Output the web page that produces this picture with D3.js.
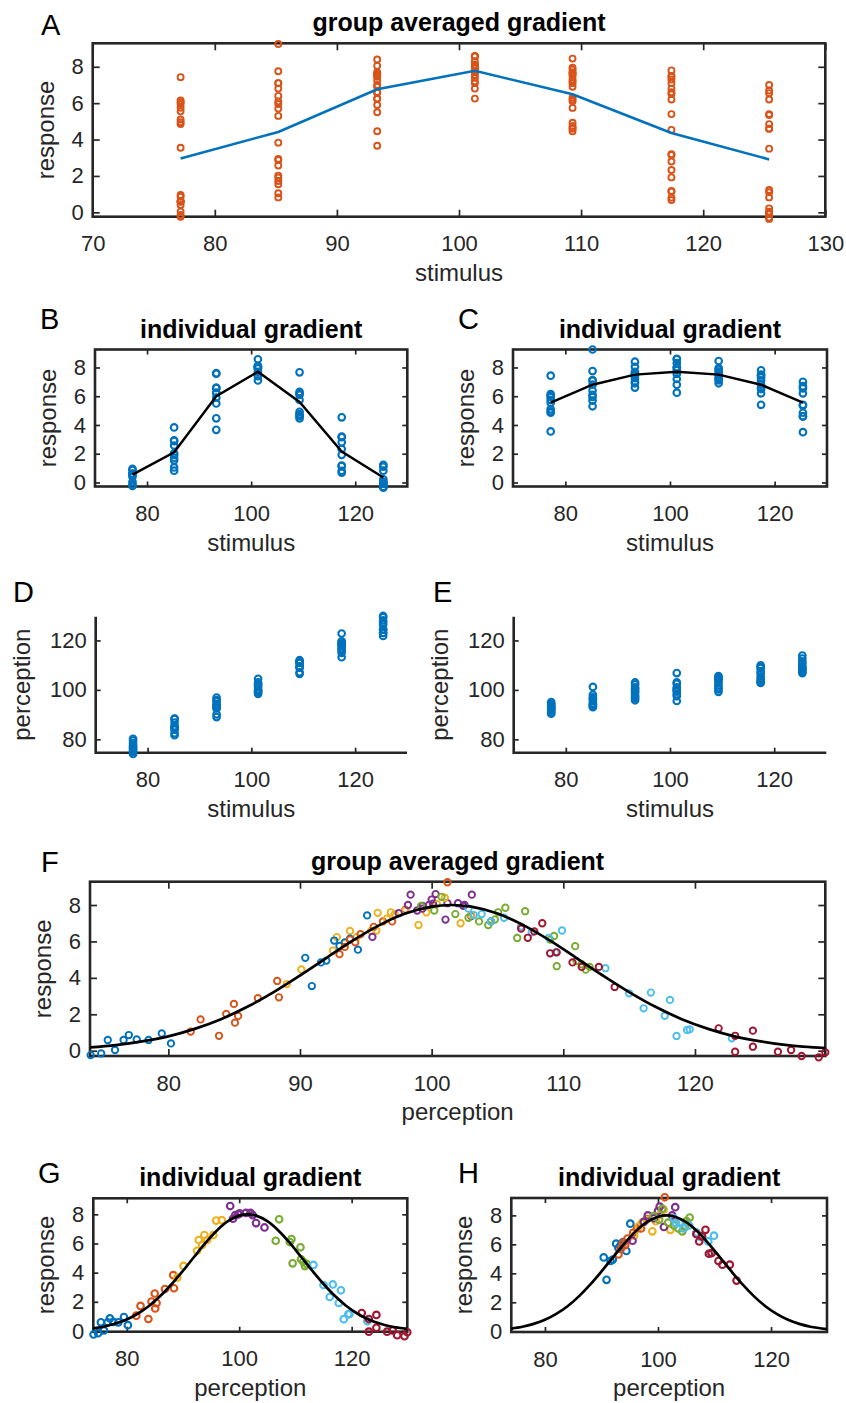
<!DOCTYPE html>
<html>
<head>
<meta charset="utf-8">
<script src="https://cdn.jsdelivr.net/npm/d3@7"></script>
<style>
  body { margin: 0; background: #fff; }
  svg text { font-family: "Liberation Sans", Arial, Helvetica, sans-serif; fill: #262626; }
  .tl { font-size: 22px; }
  .lab { font-size: 24px; }
  .ttl { font-size: 25px; font-weight: bold; fill: #000; }
  .let { font-size: 29px; fill: #000; }
</style>
</head>
<body>
<svg id="fig" width="846" height="1403"></svg>
<script>
// stimulus values (x of the columns in A-E)
var stimuli = [77.2, 85.2, 93.3, 101.3, 109.3, 117.4, 125.4];
// MATLAB default colour order, one per stimulus
var stimColors = ['#0072BD', '#D95319', '#EDB120', '#7E2F8E', '#77AC30', '#4DBEEE', '#A2142F'];

// subject 1 (B, D, G): [stimulus index, perception, response]
var subj1 = [
  [0, 74.1, -0.24], [0, 74.9, -0.15], [0, 75.4, 0.59], [0, 75.95, 0.04], [0, 76.6, 0.59],
  [0, 77.0, 0.86], [0, 77.6, 0.62], [0, 78.5, 0.59], [0, 79.5, 0.95], [0, 80.2, 0.4],
  [1, 81.7, 1.05], [1, 82.45, 1.72], [1, 83.85, 0.82], [1, 84.4, 2.02], [1, 84.98, 2.57],
  [1, 85.06, 1.54], [1, 85.3, 1.91], [1, 86.8, 2.88], [1, 88.27, 3.83], [1, 88.4, 2.93],
  [2, 89.0, 3.66], [2, 90.1, 4.46], [2, 92.5, 5.5], [2, 92.8, 6.24], [2, 93.4, 5.9],
  [2, 93.8, 6.58], [2, 94.3, 6.24], [2, 95.4, 6.58], [2, 95.9, 7.57], [2, 96.9, 7.6],
  [3, 98.4, 8.57], [3, 98.9, 7.7], [3, 99.3, 7.95], [3, 99.8, 8.0], [3, 100.1, 8.07],
  [3, 101.2, 8.1], [3, 102.0, 8.1], [3, 102.4, 7.95], [3, 103.0, 7.4], [3, 104.5, 7.1],
  [4, 106.5, 6.19], [4, 107.1, 7.66], [4, 109.0, 6.1], [4, 109.3, 6.3], [4, 109.5, 4.64],
  [4, 110.9, 5.74], [4, 111.0, 4.92], [4, 111.4, 4.75], [4, 111.7, 4.45], [4, 112.0, 4.6],
  [5, 113.2, 4.53], [5, 115.0, 3.15], [5, 116.1, 2.33], [5, 116.65, 3.19], [5, 117.7, 1.92],
  [5, 118.1, 2.79], [5, 118.6, 0.81], [5, 119.4, 1.14], [5, 119.6, 1.17], [5, 122.8, 0.68],
  [6, 121.8, 1.23], [6, 123.05, 0.82], [6, 123.05, -0.05], [6, 124.4, 1.1], [6, 124.4, 0.22],
  [6, 126.3, -0.05], [6, 127.3, 0.04], [6, 128.1, -0.29], [6, 129.4, -0.36], [6, 129.9, -0.09]
];

// subject 2 (C, E, H): [stimulus index, perception, response]
var subj2 = [
  [0, 90.4, 5.1], [0, 90.9, 3.55], [0, 91.6, 4.85], [0, 92.0, 4.95], [0, 92.6, 6.05],
  [0, 93.0, 5.75], [0, 93.4, 5.95], [0, 93.8, 6.15], [0, 94.4, 5.55], [0, 95.1, 7.43],
  [1, 93.0, 5.3], [1, 93.4, 5.7], [1, 93.8, 6.1], [1, 94.2, 5.95], [1, 94.6, 6.4],
  [1, 95.6, 6.8], [1, 96.3, 7.1], [1, 97.0, 7.1], [1, 98.0, 7.75], [1, 101.2, 9.25],
  [2, 95.8, 6.6], [2, 96.6, 7.25], [2, 97.2, 7.5], [2, 98.0, 7.7], [2, 99.0, 6.9],
  [2, 99.6, 7.6], [2, 100.4, 8.05], [2, 101.0, 8.4], [2, 102.2, 7.0], [2, 103.0, 7.45],
  [3, 95.5, 6.25], [3, 97.5, 7.55], [3, 98.2, 8.0], [3, 99.3, 7.8], [3, 100.0, 8.3],
  [3, 100.3, 8.6], [3, 101.05, 7.2], [3, 102.5, 8.0], [3, 103.05, 8.57], [3, 106.8, 6.8],
  [4, 99.2, 7.95], [4, 100.2, 7.7], [4, 100.75, 8.45], [4, 101.8, 7.5], [4, 102.8, 7.3],
  [4, 103.6, 7.1], [4, 104.3, 6.9], [4, 104.8, 7.2], [4, 105.05, 7.6], [4, 105.6, 7.85],
  [5, 102.8, 7.8], [5, 103.2, 7.45], [5, 103.8, 7.5], [5, 104.5, 7.1], [5, 105.5, 7.3],
  [5, 106.8, 6.8], [5, 107.6, 6.5], [5, 108.9, 6.2], [5, 109.4, 5.4], [5, 109.9, 6.6],
  [6, 106.8, 6.7], [6, 107.3, 6.2], [6, 107.8, 6.55], [6, 108.4, 7.0], [6, 109.0, 5.35],
  [6, 109.5, 5.4], [6, 110.7, 4.85], [6, 111.4, 4.6], [6, 112.7, 4.6], [6, 113.9, 3.5]
];

// mean response per stimulus
var groupMean = [2.96, 4.42, 6.76, 7.78, 6.49, 4.36, 2.91];
var subj1Mean = [0.55, 2.1, 6.0, 7.7, 5.6, 2.15, 0.35];
var subj2Mean = [5.55, 6.8, 7.5, 7.7, 7.5, 6.8, 5.55];

var fitX = [74, 76, 78, 80, 82, 84, 86, 88, 90, 92, 94, 96, 98, 100, 101.5,
            103, 105, 107, 109, 111, 113, 115, 117, 119, 121, 123, 125, 127, 130];
var fitY = [0.18, 0.31, 0.51, 0.79, 1.20, 1.73, 2.41, 3.22, 4.13, 5.09, 6.04, 6.88, 7.53, 7.91, 8.0,
            7.91, 7.53, 6.88, 6.04, 5.09, 4.13, 3.22, 2.41, 1.73, 1.20, 0.79, 0.51, 0.31, 0.14];

// tick values
var stimTicksWide = [70, 80, 90, 100, 110, 120, 130];
var stimTicks = [80, 100, 120];
var percTicksWide = [80, 90, 100, 110, 120];
var respTicks = [0, 2, 4, 6, 8];
var percTicks = [80, 100, 120];

var svg = d3.select('#fig');
var ink = '#262626';
var fitPts = fitX.map(function(v, i){ return [v, fitY[i]]; });
var meanPts = function(m){ return m.map(function(v, i){ return [stimuli[i], v]; }); };

function panel(o){
  var g = svg.append('g');
  var x = d3.scaleLinear().domain(o.xDomain).range([o.left, o.right]);
  var y = d3.scaleLinear().domain(o.yDomain).range([o.bottom, o.top]);
  var tk = o.tick || 5;

  g.append('clipPath').attr('id', 'clip' + o.letter).append('rect')
    .attr('x', o.left).attr('y', o.top)
    .attr('width', o.right - o.left).attr('height', o.bottom - o.top);

  // axes, ticks pointing inward
  g.append('g').attr('transform', 'translate(0,' + o.bottom + ')')
    .call(d3.axisBottom(x).tickValues(o.xTicks).tickSize(-tk).tickSizeOuter(0).tickPadding(19));
  g.append('g').attr('transform', 'translate(' + o.left + ',0)')
    .call(d3.axisLeft(y).tickValues(o.yTicks).tickSize(-tk).tickSizeOuter(0).tickPadding(9));
  if (o.box) {
    g.append('g').attr('transform', 'translate(0,' + o.top + ')')
      .call(d3.axisTop(x).tickValues(o.xTicks).tickSize(-tk).tickSizeOuter(0).tickFormat(''));
    g.append('g').attr('transform', 'translate(' + o.right + ',0)')
      .call(d3.axisRight(y).tickValues(o.yTicks).tickSize(-tk).tickSizeOuter(0).tickFormat(''));
  }
  g.selectAll('.domain').remove();
  g.selectAll('.tick line').attr('stroke', ink).attr('stroke-width', 1.7);
  g.selectAll('.tick text').attr('class', 'tl').attr('fill', null);
  g.selectAll('g').attr('font-size', null).attr('font-family', null);

  // frame
  if (o.box) {
    g.append('rect')
      .attr('x', o.left).attr('y', o.top)
      .attr('width', o.right - o.left).attr('height', o.bottom - o.top)
      .attr('fill', 'none').attr('stroke', ink).attr('stroke-width', 2.6);
  } else {
    g.append('path')
      .attr('d', 'M' + o.left + ',' + o.top + 'V' + o.bottom + 'H' + o.right)
      .attr('fill', 'none').attr('stroke', ink).attr('stroke-width', 2.6);
  }

  // scatter
  g.append('g').selectAll('circle').data(o.points).join('circle')
    .attr('cx', function(d){ return x(d.x); })
    .attr('cy', function(d){ return y(d.y); })
    .attr('r', o.r || 3.3)
    .attr('fill', 'none')
    .attr('stroke', function(d){ return d.c; })
    .attr('stroke-width', o.sw || 2.1);

  // line / fitted curve
  if (o.line) {
    var ln = d3.line()
      .x(function(d){ return x(d[0]); })
      .y(function(d){ return y(d[1]); })
      .curve(o.smooth ? d3.curveCatmullRom : d3.curveLinear);
    g.append('path').datum(o.line)
      .attr('clip-path', 'url(#clip' + o.letter + ')')
      .attr('d', ln)
      .attr('fill', 'none')
      .attr('stroke', o.lineColor)
      .attr('stroke-width', o.lineWidth || 2.4);
  }

  // texts
  if (o.title) {
    g.append('text').attr('class', 'ttl')
      .attr('x', (o.left + o.right) / 2).attr('y', o.top - 12)
      .attr('text-anchor', 'middle').text(o.title);
  }
  g.append('text').attr('class', 'lab')
    .attr('x', (o.left + o.right) / 2).attr('y', o.bottom + 64)
    .attr('text-anchor', 'middle').text(o.xLabel);
  g.append('text').attr('class', 'lab')
    .attr('transform', 'translate(' + (o.left + o.yLabelOff) + ',' + ((o.top + o.bottom) / 2) + ') rotate(-90)')
    .attr('text-anchor', 'middle').text(o.yLabel);
  g.append('text').attr('class', 'let')
    .attr('x', o.letterPos[0]).attr('y', o.letterPos[1]).text(o.letter);
}

// point builders
function byStim(trials, field, color){
  return trials.map(function(t){
    return { x: stimuli[t[0]], y: t[field], c: color };
  });
}
function byPerc(trials){
  return trials.map(function(t){
    return { x: t[1], y: t[2], c: stimColors[t[0]] };
  });
}
var allTrials = subj1.concat(subj2);

// A
panel({ letter: 'A', letterPos: [41, 35], left: 92.7, right: 825.3, top: 43.3, bottom: 216.7,
  xDomain: [70, 130], yDomain: [-0.24, 9.29], xTicks: stimTicksWide, yTicks: respTicks, tick: 7,
  box: true, title: 'group averaged gradient', xLabel: 'stimulus', yLabel: 'response', yLabelOff: -39,
  points: byStim(allTrials, 2, '#D95319'), r: 3, sw: 1.9,
  line: meanPts(groupMean), lineColor: '#0072BD', lineWidth: 2.6 });

// B
panel({ letter: 'B', letterPos: [40, 329], left: 95, right: 407.3, top: 349.5, bottom: 486.5,
  xDomain: [70, 130], yDomain: [-0.28, 9.25], xTicks: stimTicks, yTicks: respTicks,
  box: true, title: 'individual gradient', xLabel: 'stimulus', yLabel: 'response', yLabelOff: -39,
  points: byStim(subj1, 2, '#0072BD'),
  line: meanPts(subj1Mean), lineColor: '#000' });

// C
panel({ letter: 'C', letterPos: [458, 329], left: 513, right: 827, top: 349.5, bottom: 486.5,
  xDomain: [70, 130], yDomain: [-0.28, 9.25], xTicks: stimTicks, yTicks: respTicks,
  box: true, title: 'individual gradient', xLabel: 'stimulus', yLabel: 'response', yLabelOff: -39,
  points: byStim(subj2, 2, '#0072BD'),
  line: meanPts(subj2Mean), lineColor: '#000' });

// D
panel({ letter: 'D', letterPos: [13, 602], left: 95.7, right: 407, top: 616.7, bottom: 752.7,
  xDomain: [70, 130], yDomain: [74.6, 129.6], xTicks: stimTicks, yTicks: percTicks,
  box: false, xLabel: 'stimulus', yLabel: 'perception', yLabelOff: -66,
  points: byStim(subj1, 1, '#0072BD') });

// E
panel({ letter: 'E', letterPos: [433, 602], left: 513.7, right: 826.3, top: 616.7, bottom: 752.7,
  xDomain: [70, 130], yDomain: [74.6, 129.6], xTicks: stimTicks, yTicks: percTicks,
  box: false, xLabel: 'stimulus', yLabel: 'perception', yLabelOff: -66,
  points: byStim(subj2, 1, '#0072BD') });

// F
panel({ letter: 'F', letterPos: [41, 872], left: 90, right: 825.3, top: 881.7, bottom: 1056,
  xDomain: [74.05, 129.9], yDomain: [-0.29, 9.28], xTicks: percTicksWide, yTicks: respTicks, tick: 7,
  box: true, title: 'group averaged gradient', xLabel: 'perception', yLabel: 'response', yLabelOff: -39,
  points: byPerc(allTrials), r: 3.2, sw: 1.9,
  line: fitPts, smooth: true, lineColor: '#000', lineWidth: 2.7 });

// G
panel({ letter: 'G', letterPos: [38, 1183], left: 93.3, right: 407.3, top: 1198.3, bottom: 1331.7,
  xDomain: [74.05, 129.9], yDomain: [-0.05, 9.1], xTicks: stimTicks, yTicks: respTicks,
  box: true, title: 'individual gradient', xLabel: 'perception', yLabel: 'response', yLabelOff: -39,
  points: byPerc(subj1),
  line: fitPts, smooth: true, lineColor: '#000', lineWidth: 2.7 });

// H
panel({ letter: 'H', letterPos: [458, 1183], left: 511.3, right: 827, top: 1198, bottom: 1332,
  xDomain: [74.05, 129.9], yDomain: [-0.05, 9.2], xTicks: stimTicks, yTicks: respTicks,
  box: true, title: 'individual gradient', xLabel: 'perception', yLabel: 'response', yLabelOff: -39,
  points: byPerc(subj2),
  line: fitPts, smooth: true, lineColor: '#000', lineWidth: 2.7 });
</script>
</body>
</html>
